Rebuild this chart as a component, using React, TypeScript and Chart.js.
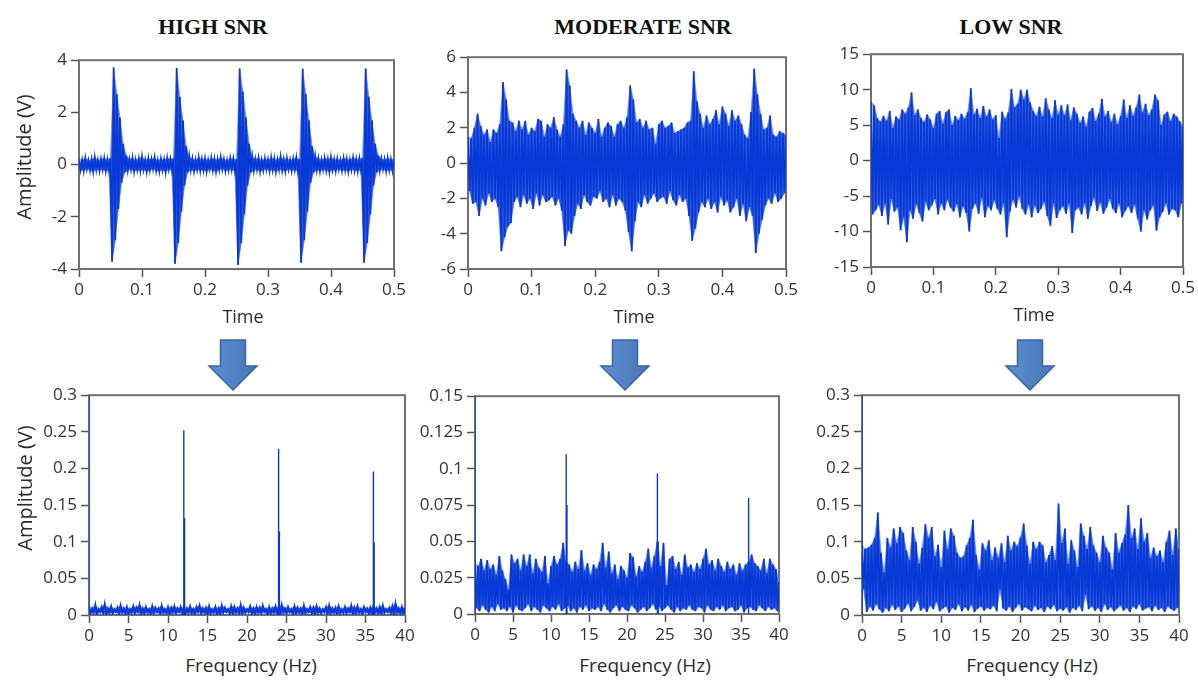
import React, { useEffect, useRef } from "react";
import { Chart, registerables } from "chart.js";

Chart.register(...registerables);

// ---------- sampling grids ----------
const TIME_STEP = 0.005; // s between envelope samples (0 .. 0.5)
const FREQ_STEP = 0.4; // Hz between envelope samples (0 .. 40)

// ---------- HIGH SNR, time domain: upper / lower envelope (V) ----------
const highSnrTop = [
  0.22, 0.18, 0.25, 0.16, 0.2, 0.28, 0.17, 0.21, 0.24, 0.19,
  0.25, 3.72, 2.7, 1.8, 0.8, 0.35, 0.2, 0.26, 0.18, 0.22,
  0.3, 0.17, 0.23, 0.2, 0.27, 0.16, 0.22, 0.19, 0.25, 0.21,
  0.24, 3.7, 2.6, 1.7, 0.7, 0.3, 0.22, 0.18, 0.27, 0.2,
  0.23, 0.17, 0.25, 0.21, 0.19, 0.28, 0.2, 0.16, 0.24, 0.22,
  0.2, 3.68, 2.8, 1.8, 0.8, 0.3, 0.21, 0.25, 0.17, 0.23,
  0.19, 0.26, 0.22, 0.18, 0.3, 0.2, 0.24, 0.17, 0.22, 0.26,
  0.2, 3.67, 2.7, 1.7, 0.7, 0.3, 0.23, 0.18, 0.25, 0.2,
  0.27, 0.19, 0.22, 0.17, 0.24, 0.21, 0.18, 0.26, 0.2, 0.23,
  0.25, 3.68, 2.6, 1.7, 0.8, 0.35, 0.22, 0.19, 0.24, 0.2,
  0.21,
];
const highSnrBottom = [
  -0.2, -0.24, -0.17, -0.22, -0.27, -0.19, -0.23, -0.18, -0.25, -0.21,
  -3.72, -2.9, -1.7, -0.7, -0.3, -0.22, -0.18, -0.26, -0.2, -0.24,
  -0.19, -0.27, -0.21, -0.17, -0.23, -0.25, -0.2, -0.28, -0.18, -0.22,
  -3.8, -3.0, -1.8, -0.8, -0.3, -0.2, -0.25, -0.19, -0.23, -0.21,
  -0.26, -0.18, -0.22, -0.27, -0.2, -0.17, -0.24, -0.21, -0.19, -0.25,
  -3.85, -3.0, -1.9, -0.8, -0.3, -0.23, -0.19, -0.26, -0.21, -0.18,
  -0.24, -0.2, -0.27, -0.19, -0.22, -0.25, -0.18, -0.23, -0.2, -0.26,
  -3.76, -2.9, -1.8, -0.7, -0.3, -0.21, -0.25, -0.19, -0.22, -0.27,
  -0.2, -0.24, -0.18, -0.23, -0.21, -0.26, -0.19, -0.22, -0.25, -0.2,
  -3.76, -3.0, -1.9, -0.8, -0.3, -0.22, -0.18, -0.25, -0.21, -0.23,
  -0.2,
];

// ---------- MODERATE SNR, time domain ----------
const modSnrTop = [
  1.5, 1.4, 2.0, 2.8, 2.1, 1.6, 1.9, 1.2, 1.9, 1.7,
  2.2, 4.6, 3.6, 2.4, 2.3, 1.8, 2.4, 1.9, 2.4, 1.6,
  2.0, 1.8, 2.5, 2.4, 1.5, 2.2, 2.0, 2.6, 1.9, 1.5,
  2.2, 5.3, 4.4, 2.8, 2.4, 2.0, 2.4, 1.6, 2.3, 2.0,
  1.7, 2.5, 1.5, 2.0, 2.3, 2.1, 1.5, 2.2, 2.4, 2.0,
  2.6, 4.4, 3.6, 2.3, 2.5, 2.0, 2.4, 1.9, 2.0, 1.1,
  2.2, 2.4, 2.0, 2.1, 2.3, 1.7, 1.8, 1.9, 2.0, 2.3,
  2.4, 5.2, 3.5, 2.8, 2.0, 2.7, 2.2, 2.5, 3.0, 2.2,
  3.2, 2.8, 2.1, 3.0, 2.4, 2.7, 2.2, 1.6, 1.4, 2.9,
  5.35, 3.9, 2.8, 1.9, 2.0, 2.7, 1.6, 1.5, 1.8, 1.7,
  1.6,
];
const modSnrBottom = [
  -1.6, -2.3, -2.2, -3.0, -2.0, -2.4, -1.7, -2.2, -2.0, -2.5,
  -5.0, -4.2, -3.6, -3.4, -2.2, -1.9, -2.5, -1.8, -2.3, -2.0,
  -2.6, -1.7, -2.4, -1.8, -2.2, -2.1, -1.9, -2.4, -2.0, -2.7,
  -4.7, -3.8, -4.0, -3.0, -2.3, -2.6, -1.8, -2.2, -2.4, -1.9,
  -2.0, -1.6, -2.2, -2.0, -2.5, -1.8, -2.4, -2.0, -2.2, -2.7,
  -3.9, -5.0, -3.3, -2.2, -2.5, -1.8, -2.3, -2.0, -1.7, -2.2,
  -2.0, -1.9, -2.3, -1.6, -2.1, -2.4, -1.8, -2.2, -2.0, -3.0,
  -4.4, -3.7, -2.8, -2.2, -2.5, -2.0, -2.6, -2.2, -2.8, -1.9,
  -2.4, -2.1, -2.8, -2.5, -2.0, -3.0, -2.3, -3.3, -2.5, -3.0,
  -5.1, -4.0, -3.2, -2.4, -2.0, -2.3, -1.7, -2.2, -2.0, -1.7,
  -1.3,
];

// ---------- LOW SNR, time domain ----------
const lowSnrTop = [
  8.3, 7.8, 6.0, 5.5, 6.3, 5.6, 7.0, 4.6, 6.2, 5.8,
  7.2, 6.6, 7.5, 9.6, 6.4, 7.2, 6.0, 5.4, 6.5, 5.8,
  4.6, 6.6, 7.0, 5.2, 6.8, 7.2, 5.0, 6.3, 5.7, 6.6,
  5.9, 6.8, 10.2, 6.5, 7.3, 6.0, 7.7, 6.2, 7.2, 5.8,
  6.4, 3.2, 6.9, 5.9, 6.8, 10.1, 7.5, 8.0, 10.0, 8.6,
  10.0, 8.2, 7.0, 6.3, 7.6, 6.2, 8.8, 7.2, 6.0, 8.5,
  6.5, 7.8, 6.4, 7.9, 5.7, 7.5, 6.6, 5.3, 6.2, 4.8,
  6.9, 7.4, 5.6, 6.6, 8.7, 6.2, 7.0, 5.4, 6.6, 5.1,
  6.3, 8.6, 6.0, 7.8, 6.3, 7.5, 9.3, 6.8, 8.0, 6.4,
  7.2, 9.3, 8.5, 5.0, 6.5, 6.9, 5.6, 6.6, 6.2, 5.5,
  4.8,
];
const lowSnrBottom = [
  -7.6, -7.0, -6.2, -7.8, -6.0, -9.0, -5.4, -7.2, -6.6, -9.8,
  -8.0, -11.5, -7.0, -8.2, -6.1, -7.4, -8.6, -5.8, -7.0, -6.3,
  -5.4, -7.6, -6.0, -7.0, -5.5, -6.6, -7.2, -6.1, -8.0, -6.4,
  -7.4, -10.0, -6.8, -6.0, -7.5, -5.2, -8.0, -6.4, -7.0, -5.6,
  -6.8, -7.6, -6.0, -10.8, -7.2, -5.5, -6.6, -5.0, -6.8, -7.6,
  -6.2, -8.0, -6.3, -7.4, -6.8, -5.8, -7.8, -9.2, -6.0, -8.1,
  -7.0, -6.4, -7.5, -6.0, -10.2, -7.0, -6.6, -7.6, -6.0, -8.2,
  -6.4, -5.2, -7.1, -5.9, -7.5, -6.6, -5.4, -6.8, -7.4, -6.0,
  -8.0, -7.1, -6.4, -7.4, -6.2, -8.2, -10.0, -7.0, -8.3, -7.0,
  -6.3, -9.9, -8.0, -7.2, -6.0, -7.6, -6.8, -7.0, -8.0, -6.0,
  -4.8,
];

// ---------- HIGH SNR, spectrum: noise floor envelope (V) ----------
const highSpecTop = [
  0.012, 0.009, 0.014, 0.008, 0.011, 0.015, 0.009, 0.012, 0.008, 0.010,
  0.013, 0.009, 0.011, 0.008, 0.012, 0.010, 0.014, 0.009, 0.011, 0.008,
  0.012, 0.010, 0.009, 0.013, 0.008, 0.011, 0.010, 0.012, 0.009, 0.011,
  0.010, 0.009, 0.012, 0.008, 0.011, 0.013, 0.009, 0.010, 0.012, 0.008,
  0.011, 0.009, 0.013, 0.010, 0.008, 0.012, 0.011, 0.009, 0.014, 0.010,
  0.008, 0.012, 0.009, 0.011, 0.010, 0.013, 0.008, 0.011, 0.009, 0.012,
  0.010, 0.014, 0.009, 0.011, 0.008, 0.012, 0.010, 0.009, 0.013, 0.008,
  0.011, 0.010, 0.012, 0.009, 0.008, 0.011, 0.013, 0.009, 0.010, 0.012,
  0.008, 0.011, 0.009, 0.013, 0.010, 0.012, 0.008, 0.011, 0.009, 0.010,
  0.012, 0.009, 0.011, 0.013, 0.008, 0.010, 0.012, 0.016, 0.009, 0.011,
  0.010,
];
const highSpecBottom = [
  0.002, 0.003, 0.001, 0.004, 0.002, 0.001, 0.003, 0.002, 0.004, 0.001,
  0.003, 0.002, 0.001, 0.003, 0.002, 0.004, 0.001, 0.002, 0.003, 0.001,
  0.002, 0.004, 0.001, 0.003, 0.002, 0.001, 0.003, 0.002, 0.004, 0.002,
  0.001, 0.003, 0.002, 0.001, 0.004, 0.002, 0.003, 0.001, 0.002, 0.003,
  0.002, 0.001, 0.003, 0.004, 0.002, 0.001, 0.003, 0.002, 0.001, 0.003,
  0.004, 0.002, 0.001, 0.003, 0.002, 0.004, 0.001, 0.002, 0.003, 0.002,
  0.001, 0.003, 0.002, 0.004, 0.001, 0.002, 0.003, 0.001, 0.002, 0.004,
  0.002, 0.001, 0.003, 0.002, 0.004, 0.001, 0.002, 0.003, 0.001, 0.002,
  0.003, 0.002, 0.004, 0.001, 0.002, 0.003, 0.001, 0.004, 0.002, 0.001,
  0.003, 0.002, 0.001, 0.003, 0.004, 0.002, 0.001, 0.003, 0.002, 0.001,
  0.002,
];
const highPeakFreqs = [0, 12.0, 12.1, 24.0, 24.1, 36.0, 36.1];
const highPeakAmps = [0.3, 0.252, 0.132, 0.227, 0.114, 0.196, 0.099];

// ---------- MODERATE SNR, spectrum ----------
const modSpecTop = [
  0.035, 0.033, 0.038, 0.030, 0.037, 0.031, 0.034, 0.027, 0.040, 0.030,
  0.024, 0.017, 0.041, 0.035, 0.038, 0.030, 0.041, 0.033, 0.041, 0.028,
  0.038, 0.032, 0.029, 0.040, 0.021, 0.033, 0.040, 0.034, 0.038, 0.049,
  0.036, 0.034, 0.029, 0.036, 0.031, 0.044, 0.030, 0.035, 0.027, 0.034,
  0.031, 0.036, 0.049, 0.032, 0.043, 0.028, 0.034, 0.024, 0.033, 0.030,
  0.025, 0.042, 0.039, 0.026, 0.033, 0.029, 0.036, 0.045, 0.032, 0.040,
  0.050, 0.033, 0.049, 0.020, 0.038, 0.040, 0.031, 0.036, 0.027, 0.041,
  0.032, 0.034, 0.029, 0.035, 0.031, 0.038, 0.045, 0.034, 0.037, 0.030,
  0.038, 0.033, 0.029, 0.036, 0.031, 0.034, 0.027, 0.035, 0.030, 0.034,
  0.036, 0.041, 0.035, 0.033, 0.030, 0.038, 0.028, 0.038, 0.034, 0.031,
  0.022,
];
const modSpecBottom = [
  0.004, 0.002, 0.006, 0.003, 0.001, 0.005, 0.002, 0.007, 0.003, 0.004,
  0.002, 0.005, 0.001, 0.006, 0.003, 0.002, 0.004, 0.007, 0.002, 0.005,
  0.003, 0.001, 0.006, 0.004, 0.002, 0.005, 0.003, 0.007, 0.002, 0.004,
  0.006, 0.002, 0.004, 0.001, 0.005, 0.003, 0.006, 0.002, 0.004, 0.003,
  0.005, 0.002, 0.007, 0.003, 0.001, 0.004, 0.006, 0.002, 0.005, 0.003,
  0.002, 0.006, 0.004, 0.001, 0.003, 0.005, 0.002, 0.004, 0.007, 0.003,
  0.005, 0.002, 0.004, 0.006, 0.003, 0.001, 0.005, 0.002, 0.004, 0.003,
  0.006, 0.003, 0.002, 0.005, 0.004, 0.001, 0.006, 0.003, 0.002, 0.005,
  0.003, 0.006, 0.002, 0.004, 0.005, 0.002, 0.003, 0.006, 0.001, 0.004,
  0.005, 0.003, 0.002, 0.006, 0.004, 0.002, 0.005, 0.003, 0.004, 0.002,
  0.004,
];
const modPeakFreqs = [0, 12.0, 12.1, 24.0, 24.1, 36.0];
const modPeakAmps = [0.15, 0.11, 0.075, 0.097, 0.05, 0.08];

// ---------- LOW SNR, spectrum ----------
const lowSpecTop = [
  0.095, 0.090, 0.092, 0.096, 0.105, 0.140, 0.085, 0.058, 0.105, 0.092,
  0.118, 0.098, 0.120, 0.112, 0.088, 0.075, 0.120, 0.100, 0.070, 0.092,
  0.124, 0.105, 0.120, 0.080, 0.096, 0.065, 0.115, 0.090, 0.118, 0.108,
  0.085, 0.078, 0.080, 0.095, 0.105, 0.130, 0.082, 0.062, 0.098, 0.088,
  0.102, 0.075, 0.092, 0.078, 0.098, 0.072, 0.108, 0.088, 0.100, 0.094,
  0.106, 0.125, 0.095, 0.070, 0.100, 0.090, 0.100, 0.095, 0.072, 0.082,
  0.094, 0.075, 0.152, 0.098, 0.118, 0.070, 0.102, 0.088, 0.065, 0.125,
  0.108, 0.090, 0.120, 0.095, 0.085, 0.072, 0.108, 0.092, 0.085, 0.062,
  0.112, 0.085, 0.098, 0.110, 0.150, 0.105, 0.118, 0.090, 0.132, 0.100,
  0.112, 0.078, 0.092, 0.080, 0.088, 0.072, 0.100, 0.115, 0.082, 0.118,
  0.090,
];
const lowSpecBottom = [
  0.035, 0.004, 0.012, 0.006, 0.015, 0.008, 0.003, 0.010, 0.005, 0.014,
  0.007, 0.012, 0.004, 0.009, 0.016, 0.005, 0.011, 0.020, 0.006, 0.010,
  0.004, 0.013, 0.008, 0.018, 0.005, 0.009, 0.012, 0.003, 0.010, 0.007,
  0.015, 0.005, 0.011, 0.006, 0.014, 0.004, 0.009, 0.012, 0.006, 0.010,
  0.008, 0.013, 0.005, 0.035, 0.009, 0.006, 0.012, 0.004, 0.010, 0.015,
  0.006, 0.011, 0.008, 0.005, 0.013, 0.007, 0.010, 0.004, 0.012, 0.008,
  0.014, 0.005, 0.009, 0.006, 0.011, 0.003, 0.010, 0.007, 0.013, 0.005,
  0.028, 0.008, 0.012, 0.006, 0.010, 0.004, 0.015, 0.007, 0.011, 0.005,
  0.009, 0.013, 0.006, 0.010, 0.004, 0.012, 0.008, 0.015, 0.006, 0.009,
  0.011, 0.005, 0.013, 0.007, 0.010, 0.004, 0.012, 0.008, 0.006, 0.010,
  0.007,
];
const lowPeakFreqs = [0];
const lowPeakAmps = [0.3];

// ---------- text ----------
const PANEL_TITLES = ["HIGH SNR", "MODERATE SNR", "LOW SNR"];
const TIME_LABEL = "Time";
const FREQ_LABEL = "Frequency (Hz)";
const AMP_LABEL = "Amplitude (V)";

// ---------- styling ----------
const BLUE = "#0838d6";
const FILL_BLUE = "#3a66e2";
const EDGE_BLUE = "#6f92ee";
const TICK_FONT = "'Open Sans', 'Noto Sans', sans-serif";
const TEXT_COLOR = "#333333";

type Pt = { x: number; y: number | null };

// trace that swings between the upper and lower envelope values
function zigzag(step: number, top: number[], bottom: number[]): Pt[] {
  const pts: Pt[] = [];
  for (let i = 0; i < top.length; i++) {
    pts.push({ x: i * step, y: top[i] });
    pts.push({ x: i * step + step / 2, y: bottom[i] });
  }
  return pts;
}
function envelope(step: number, vals: number[], shift: number): Pt[] {
  return vals.map((v, i) => ({ x: i * step + shift, y: v }));
}

function spikes(xs: number[], ys: number[]): Pt[] {
  const pts: Pt[] = [];
  xs.forEach((x, i) => {
    pts.push({ x, y: 0 }, { x, y: ys[i] }, { x, y: null });
  });
  return pts;
}

type PanelDef = {
  l: number; t: number; r: number; b: number; // plot area in page px
  xMax: number; xStep: number;
  yMin: number; yMax: number; yStep: number;
  step: number; top: number[]; bottom: number[];
  peaks: Pt[] | null;
};

const PANELS: PanelDef[] = [
  { l: 79, t: 60, r: 394, b: 269, xMax: 0.5, xStep: 0.1, yMin: -4, yMax: 4, yStep: 2,
    step: TIME_STEP, top: highSnrTop, bottom: highSnrBottom, peaks: null },
  { l: 468, t: 57, r: 786, b: 269, xMax: 0.5, xStep: 0.1, yMin: -6, yMax: 6, yStep: 2,
    step: TIME_STEP, top: modSnrTop, bottom: modSnrBottom, peaks: null },
  { l: 871, t: 54, r: 1183, b: 267, xMax: 0.5, xStep: 0.1, yMin: -15, yMax: 15, yStep: 5,
    step: TIME_STEP, top: lowSnrTop, bottom: lowSnrBottom, peaks: null },
  { l: 89, t: 395, r: 405, b: 615, xMax: 40, xStep: 5, yMin: 0, yMax: 0.3, yStep: 0.05,
    step: FREQ_STEP, top: highSpecTop, bottom: highSpecBottom,
    peaks: spikes(highPeakFreqs, highPeakAmps) },
  { l: 475, t: 396, r: 779, b: 614, xMax: 40, xStep: 5, yMin: 0, yMax: 0.15, yStep: 0.025,
    step: FREQ_STEP, top: modSpecTop, bottom: modSpecBottom,
    peaks: spikes(modPeakFreqs, modPeakAmps) },
  { l: 862, t: 395, r: 1179, b: 615, xMax: 40, xStep: 5, yMin: 0, yMax: 0.3, yStep: 0.05,
    step: FREQ_STEP, top: lowSpecTop, bottom: lowSpecBottom,
    peaks: spikes(lowPeakFreqs, lowPeakAmps) },
];

const YW = 60; // y-axis band width
const XH = 36; // x-axis band height
const PT = 14; // top padding
const PR = 15; // right padding

const fmt = (v: number | string) => {
  const n = Number(v);
  return String(Number(n.toFixed(4)));
};

const boxPlugin = {
  id: "plotBox",
  beforeDatasetsDraw(chart: any) {
    const { ctx, chartArea: a } = chart;
    ctx.save();
    ctx.strokeStyle = "#707070";
    ctx.lineWidth = 2;
    ctx.strokeRect(a.left, a.top, a.right - a.left, a.bottom - a.top);
    ctx.restore();
  },
};

function Panel({ def }: { def: PanelDef }) {
  const ref = useRef<HTMLCanvasElement | null>(null);
  const w = YW + (def.r - def.l) + PR;
  const h = PT + (def.b - def.t) + XH;

  useEffect(() => {
    if (!ref.current) return;
    const tickFont = { family: TICK_FONT, size: 17 };
    const datasets: any[] = [
      {
        // upper envelope, filled down to the lower envelope (next dataset)
        data: envelope(def.step, def.top, 0),
        borderColor: EDGE_BLUE,
        backgroundColor: FILL_BLUE,
        borderWidth: 0.8,
        pointRadius: 0,
        fill: "+1",
        order: 3,
      },
      {
        data: envelope(def.step, def.bottom, def.step / 2),
        borderColor: EDGE_BLUE,
        borderWidth: 0.8,
        pointRadius: 0,
        fill: false,
        order: 4,
      },
      {
        data: zigzag(def.step, def.top, def.bottom),
        borderColor: BLUE,
        borderWidth: 1.8,
        pointRadius: 0,
        tension: 0,
        fill: false,
        order: 1,
      },
    ];
    if (def.peaks) {
      datasets.push({
        data: def.peaks,
        borderColor: BLUE,
        borderWidth: 1.4,
        pointRadius: 0,
        fill: false,
        spanGaps: false,
        order: 0,
      });
    }
    const chart = new Chart(ref.current, {
      type: "line",
      data: { datasets },
      plugins: [boxPlugin],
      options: {
        responsive: false,
        animation: false,
        events: [],
        layout: { padding: { top: PT, right: PR, left: 0, bottom: 0 } },
        plugins: { legend: { display: false }, tooltip: { enabled: false } },
        scales: {
          x: {
            type: "linear",
            min: 0,
            max: def.xMax,
            afterFit: (s: any) => { s.height = XH; },
            ticks: {
              stepSize: def.xStep,
              autoSkip: false,
              maxRotation: 0,
              padding: 3,
              color: TEXT_COLOR,
              font: tickFont,
              callback: (v: any) => fmt(v),
            },
            grid: { drawOnChartArea: false, drawTicks: true, tickLength: 8, tickColor: "#555", tickWidth: 1.5 },
            border: { display: false },
          },
          y: {
            type: "linear",
            min: def.yMin,
            max: def.yMax,
            afterFit: (s: any) => { s.width = YW; },
            ticks: {
              stepSize: def.yStep,
              autoSkip: false,
              padding: 4,
              color: TEXT_COLOR,
              font: tickFont,
              callback: (v: any) => fmt(v),
            },
            grid: { drawOnChartArea: false, drawTicks: true, tickLength: 8, tickColor: "#555", tickWidth: 1.5 },
            border: { display: false },
          },
        },
      } as any,
    });
    return () => chart.destroy();
  }, [def]);

  return (
    <canvas
      ref={ref}
      width={w}
      height={h}
      style={{ position: "absolute", left: def.l - YW, top: def.t - PT, width: w, height: h }}
    />
  );
}

const centered = (cx: number, cy: number, extra: React.CSSProperties): React.CSSProperties => ({
  position: "absolute",
  left: cx,
  top: cy,
  transform: "translate(-50%, -50%)",
  whiteSpace: "nowrap",
  lineHeight: 1,
  ...extra,
});

const titleStyle: React.CSSProperties = {
  fontFamily: "'Liberation Serif', 'DejaVu Serif', serif",
  fontWeight: 700,
  fontSize: 22,
  color: "#111",
};
const axisStyle = (size: number): React.CSSProperties => ({
  fontFamily: TICK_FONT,
  fontSize: size,
  color: "#2b2b2b",
});

function Arrow({ cx }: { cx: number }) {
  const pts = [
    [cx - 12.5, 340], [cx + 12.5, 340], [cx + 12.5, 366], [cx + 24, 366],
    [cx, 390], [cx - 24, 366], [cx - 12.5, 366],
  ].map((p) => p.join(",")).join(" ");
  return <polygon points={pts} fill="url(#arrowGrad)" stroke="#3b64a0" strokeWidth={1.5} />;
}

export default function App() {
  return (
    <div
      style={{
        position: "absolute",
        left: 0,
        top: 0,
        width: 1198,
        height: 681,
        overflow: "hidden",
        background: "#fff",
      }}
    >
      <svg width={1198} height={681} style={{ position: "absolute", left: 0, top: 0 }}>
        <defs>
          <linearGradient id="arrowGrad" x1="0" y1="0" x2="1" y2="0">
            <stop offset="0" stopColor="#5f8fd0" />
            <stop offset="1" stopColor="#4676b8" />
          </linearGradient>
        </defs>
        <Arrow cx={233} />
        <Arrow cx={625} />
        <Arrow cx={1030} />
      </svg>

      <div style={centered(213, 27, titleStyle)}>{PANEL_TITLES[0]}</div>
      <div style={centered(643, 27, titleStyle)}>{PANEL_TITLES[1]}</div>
      <div style={centered(1011, 27, titleStyle)}>{PANEL_TITLES[2]}</div>

      {PANELS.map((p, i) => (
        <Panel key={i} def={p} />
      ))}

      <div style={{ ...centered(24, 157, axisStyle(20)), transform: "translate(-50%, -50%) rotate(-90deg)" }}>
        {AMP_LABEL}
      </div>
      <div style={{ ...centered(25, 488, axisStyle(20)), transform: "translate(-50%, -50%) rotate(-90deg)" }}>
        {AMP_LABEL}
      </div>

      <div style={centered(243, 316, axisStyle(18))}>{TIME_LABEL}</div>
      <div style={centered(634, 316, axisStyle(18))}>{TIME_LABEL}</div>
      <div style={centered(1034, 314, axisStyle(18))}>{TIME_LABEL}</div>

      <div style={centered(251, 665, axisStyle(19))}>{FREQ_LABEL}</div>
      <div style={centered(645, 665, axisStyle(19))}>{FREQ_LABEL}</div>
      <div style={centered(1032, 665, axisStyle(19))}>{FREQ_LABEL}</div>
    </div>
  );
}
